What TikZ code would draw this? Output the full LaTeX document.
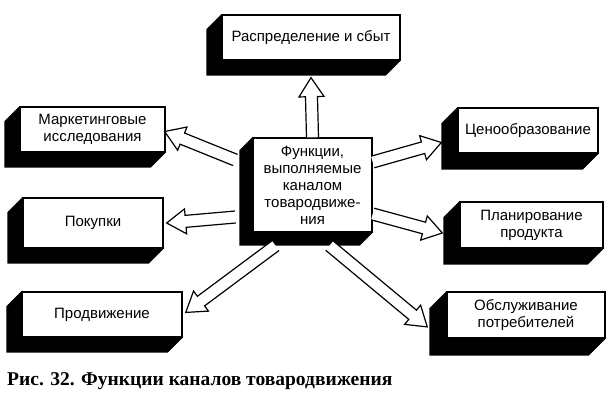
\documentclass[tikz,border=0pt]{standalone}
\usepackage{fontspec}
\setmainfont{Liberation Sans}
\newfontfamily\capfont{Liberation Serif}
\usetikzlibrary{calc,backgrounds}

\newcommand\hollowarrow[2]{%
  \path (#1) coordinate (ha-s) (#2) coordinate (ha-e);
  \pgfmathanglebetweenpoints{\pgfpointanchor{ha-s}{center}}{\pgfpointanchor{ha-e}{center}}%
  \let\haang\pgfmathresult
  \pgfpointdiff{\pgfpointanchor{ha-s}{center}}{\pgfpointanchor{ha-e}{center}}%
  \pgfgetlastxy{\hax}{\hay}%
  \pgfmathveclen{\hax}{\hay}%
  \let\halen\pgfmathresult
  \draw[arrowline,shift={(ha-s)},rotate=\haang]
    (0,-6) -- (\halen-19,-6) -- (\halen-19,-12.5) -- (\halen,0)
    -- (\halen-19,12.5) -- (\halen-19,6) -- (0,6);
}

\begin{document}
\begin{tikzpicture}[x=1pt,y=-1pt,
    box/.style={draw,fill=white,line width=1.3pt,inner sep=0pt,align=center,
      font=\fontsize{15}{17}\selectfont},
    arrowline/.style={draw,fill=white,line width=1.2pt,line join=miter}]
  \useasboundingbox (0,0) rectangle (616,400);

  \node[box,minimum width=178pt,minimum height=45pt] (sbyt) at (311,37.5) {Распределение и сбыт};
  \node[box,minimum width=145pt,minimum height=45pt] (mark) at (92.5,129.5) {Маркетинговые\\исследования};
  \node[box,minimum width=140pt,minimum height=50pt] (pok) at (93,223) {Покупки};
  \node[box,minimum width=160pt,minimum height=45pt] (prod) at (102,314.5) {Продвижение};
  \node[box,minimum width=140pt,minimum height=45pt] (tsen) at (528,130.5) {Ценообразование};
  \node[box,minimum width=143pt,minimum height=46pt] (plan) at (531.5,225) {Планирование\\продукта};
  \node[box,minimum width=158pt,minimum height=46pt] (obsl) at (526,315) {Обслуживание\\потребителей};
  \node[box,minimum width=119pt,minimum height=94pt] (func) at (312.5,185)
    {Функции,\\выполняемые\\каналом\\товародвиже-\\ния};

  % black sides of the boxes
  \begin{scope}[on background layer]
    \foreach \b/\d in {sbyt/15,mark/15,pok/15,prod/15,tsen/16,plan/16,obsl/17,func/13}
      \fill (\b.north west) -- ++(-\d,\d) |- ($(\b.south east)+(-\d,\d)$)
        -- (\b.south east) -- (\b.south west) -- cycle;
  \end{scope}

  \hollowarrow{func.north}{$(sbyt.south)+(0,17)$}
  \hollowarrow{$(func.west)+(-17,-25)$}{$(mark.east)+(-1,2)$}
  \hollowarrow{$(func.west)+(-17,32)$}{$(pok.east)+(3,0)$}
  \hollowarrow{$(func.south)+(-37,13)$}{$(prod.east)+(3,-2)$}
  \hollowarrow{$(func.east)+(0,-23)$}{$(tsen.west)+(-16,12)$}
  \hollowarrow{$(func.east)+(0,29)$}{$(plan.west)+(-17,8)$}
  \hollowarrow{$(func.south)+(17,13)$}{$(obsl.west)+(-19,12)$}

  \node[anchor=west,inner sep=0pt,font=\capfont\bfseries\fontsize{19.5}{22}\selectfont] (capt) at (7,381)
    {Рис. 32. Функции каналов товародвижения};
\end{tikzpicture}
\end{document}
